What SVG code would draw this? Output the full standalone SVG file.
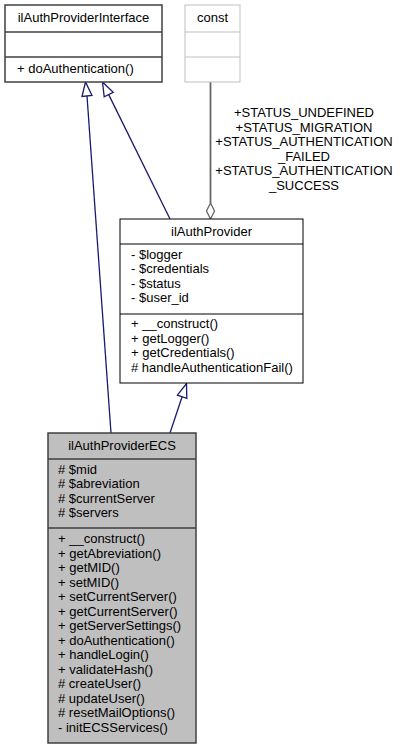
<svg xmlns="http://www.w3.org/2000/svg" width="405" height="751" viewBox="0 0 405 751">
<style>
text { font-family: "Liberation Sans", Arial, sans-serif; font-size: 13px; fill: #000; }
.c { text-anchor: middle; }
.inh { stroke: #191970; stroke-width: 1.3; fill: none; }
.head { stroke: #191970; stroke-width: 1.3; fill: #fff; }
.use { stroke: #666; stroke-width: 1.8; fill: none; }
</style>
<rect width="405" height="751" fill="#fff"/>
<g id="connectors">
  <path class="inh" d="M111,433 L87,96"/>
  <polygon class="head" points="85.5,82 82,96.5 92,95.5"/>
  <path class="inh" d="M170,219 L108.7,94.6"/>
  <polygon class="head" points="102.5,82 113.2,92.4 104.2,96.8"/>
  <path class="inh" d="M170,433 L182.1,396.8"/>
  <polygon class="head" points="186.5,383.5 186.8,398.4 177.4,395.2"/>
  <path class="use" d="M210.5,82 L210.5,203"/>
  <polygon points="210.5,219 206.5,211 210.5,203 214.5,211" fill="#fff" stroke="#666" stroke-width="1.3"/>
  <g class="c">
    <text x="304" y="117">+STATUS_UNDEFINED</text>
    <text x="304" y="131.5">+STATUS_MIGRATION</text>
    <text x="304" y="146">+STATUS_AUTHENTICATION</text>
    <text x="304" y="160.5">_FAILED</text>
    <text x="304" y="175">+STATUS_AUTHENTICATION</text>
    <text x="304" y="189.5">_SUCCESS</text>
  </g>
</g>
<g id="ilAuthProviderInterface">
  <rect x="5" y="5" width="157" height="77" fill="#fff" stroke="#404040" stroke-width="1.5"/>
  <path d="M5,32 H162 M5,57 H162" stroke="#404040" stroke-width="1.5"/>
  <text class="c" x="83.5" y="22">ilAuthProviderInterface</text>
  <text x="17" y="73">+ doAuthentication()</text>
</g>
<g id="const">
  <rect x="185" y="5" width="55" height="77" fill="#fff" stroke="#bfbfbf" stroke-width="1"/>
  <path d="M185,32 H240 M185,57 H240" stroke="#bfbfbf" stroke-width="1"/>
  <text class="c" x="212.5" y="22">const</text>
</g>
<g id="ilAuthProvider">
  <rect x="120" y="219" width="183" height="164" fill="#fff" stroke="#000" stroke-width="1"/>
  <path d="M120,244 H303 M120,314 H303" stroke="#000" stroke-width="1"/>
  <text class="c" x="211.5" y="236">ilAuthProvider</text>
  <text x="131" y="258.5">- $logger</text>
  <text x="131" y="273">- $credentials</text>
  <text x="131" y="287.5">- $status</text>
  <text x="131" y="302">- $user_id</text>
  <text x="131" y="328">+ __construct()</text>
  <text x="131" y="342.5">+ getLogger()</text>
  <text x="131" y="357">+ getCredentials()</text>
  <text x="131" y="371.5"># handleAuthenticationFail()</text>
</g>
<g id="ilAuthProviderECS">
  <rect x="48" y="433" width="148" height="310" fill="#bfbfbf" stroke="#404040" stroke-width="1.5"/>
  <path d="M48,459 H196 M48,528 H196" stroke="#404040" stroke-width="1.5"/>
  <text class="c" x="122" y="450">ilAuthProviderECS</text>
  <text x="58" y="473.5"># $mid</text>
  <text x="58" y="488"># $abreviation</text>
  <text x="58" y="502.5"># $currentServer</text>
  <text x="58" y="517"># $servers</text>
  <text x="58" y="543">+ __construct()</text>
  <text x="58" y="557.5">+ getAbreviation()</text>
  <text x="58" y="572">+ getMID()</text>
  <text x="58" y="586.5">+ setMID()</text>
  <text x="58" y="601">+ setCurrentServer()</text>
  <text x="58" y="615.5">+ getCurrentServer()</text>
  <text x="58" y="630">+ getServerSettings()</text>
  <text x="58" y="644.5">+ doAuthentication()</text>
  <text x="58" y="659">+ handleLogin()</text>
  <text x="58" y="673.5">+ validateHash()</text>
  <text x="58" y="688"># createUser()</text>
  <text x="58" y="702.5"># updateUser()</text>
  <text x="58" y="717"># resetMailOptions()</text>
  <text x="58" y="731.5">- initECSServices()</text>
</g>
</svg>
